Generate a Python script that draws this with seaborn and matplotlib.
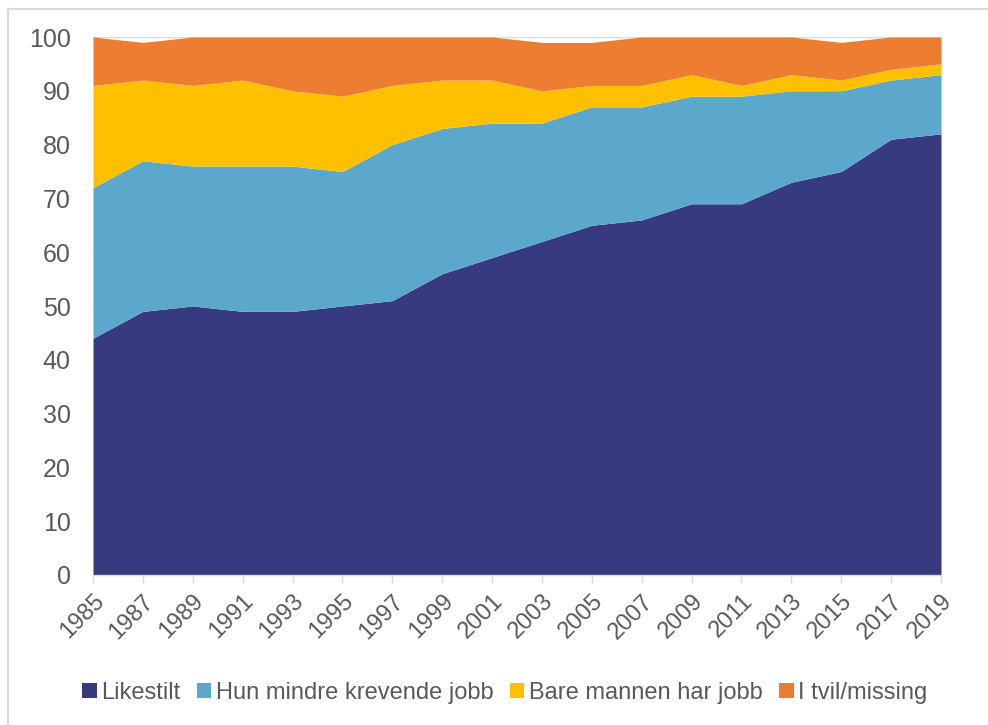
import numpy as np
import pandas as pd
import matplotlib
matplotlib.use("Agg")
import matplotlib.pyplot as plt
import seaborn as sns
from matplotlib.patches import Patch
from matplotlib.lines import Line2D

# Data (percent)
years = [1985, 1987, 1989, 1991, 1993, 1995, 1997, 1999, 2001,
         2003, 2005, 2007, 2009, 2011, 2013, 2015, 2017, 2019]
likestilt = [44, 49, 50, 49, 49, 50, 51, 56, 59, 62, 65, 66, 69, 69, 73, 75, 81, 82]
hun_mindre = [28, 28, 26, 27, 27, 25, 29, 27, 25, 22, 22, 21, 20, 20, 17, 15, 11, 11]
bare_mannen = [19, 15, 15, 16, 14, 14, 11, 9, 8, 6, 4, 4, 4, 2, 3, 2, 2, 2]
i_tvil = [9, 7, 9, 8, 10, 11, 9, 8, 8, 9, 8, 9, 7, 9, 7, 7, 6, 5]

labels = ["Likestilt", "Hun mindre krevende jobb", "Bare mannen har jobb", "I tvil/missing"]
colors = ["#373A7F", "#5BA8CC", "#FFC000", "#ED7D31"]

df = pd.DataFrame({
    "year": years,
    labels[0]: likestilt,
    labels[1]: hun_mindre,
    labels[2]: bare_mannen,
    labels[3]: i_tvil,
})

sns.set_theme(style="white")
plt.rcParams["font.family"] = ["Liberation Sans", "DejaVu Sans"]

fig = plt.figure(figsize=(9.88, 7.25), dpi=100)
ax = fig.add_axes([93 / 988, 1 - 575 / 725, (941 - 93) / 988, (575 - 37) / 725])

ax.stackplot(df["year"], [df[c] for c in labels], colors=colors, linewidth=0, zorder=2)

ax.set_xlim(1985, 2019)
ax.set_ylim(0, 100)
ax.set_yticks(range(0, 101, 10))
ax.set_xticks(years)
ax.set_xticklabels([str(y) for y in years], rotation=45, ha="right",
                   rotation_mode="anchor", fontsize=17, color="#595959")
ax.tick_params(axis="y", labelsize=18, labelcolor="#595959", length=0, pad=16)
ax.tick_params(axis="x", length=6, width=1, color="#D9D9D9", pad=5, direction="out")
ax.xaxis.set_tick_params(bottom=True)

ax.yaxis.grid(True, color="#D9D9D9", linewidth=1, zorder=0)
ax.set_axisbelow(True)
for side in ["left", "right", "top"]:
    ax.spines[side].set_visible(False)
ax.spines["bottom"].set_color("#D9D9D9")
ax.spines["bottom"].set_linewidth(1)
ax.spines["bottom"].set_zorder(3)

handles = [Patch(facecolor=c, edgecolor="none") for c in colors]
fig.legend(handles, labels, loc="center", bbox_to_anchor=(505 / 988, 1 - 693 / 725),
           ncol=4, frameon=False, fontsize=17, handlelength=0.6, handleheight=0.6,
           handletextpad=0.2, columnspacing=0.7, labelcolor="#595959")

# chart border (Excel-style frame, cropped on right/bottom)
fig.add_artist(Line2D([8 / 988, 1], [1 - 9 / 725, 1 - 9 / 725], color="#D9D9D9",
                      linewidth=1.5, transform=fig.transFigure))
fig.add_artist(Line2D([8 / 988, 8 / 988], [0, 1 - 9 / 725], color="#D9D9D9",
                      linewidth=1.5, transform=fig.transFigure))

fig.savefig("out.png", dpi=100)
